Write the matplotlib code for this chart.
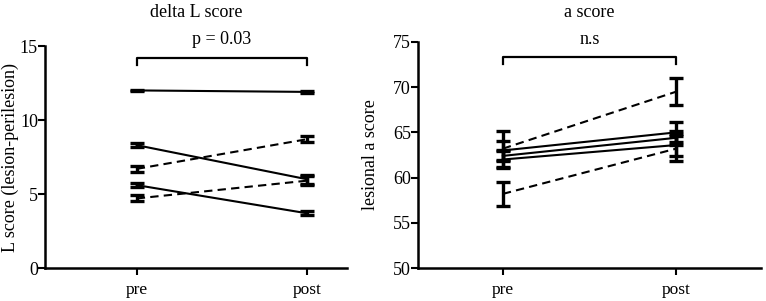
import matplotlib

matplotlib.use("Agg")
import matplotlib.pyplot as plt

plt.rcParams["font.family"] = ["Liberation Serif", "DejaVu Serif"]

groups = ["pre", "post"]

# delta L score: (pre, post) values, errors and line style per subject
l_pre = [12.0, 8.3, 6.7, 5.6, 4.7]
l_post = [11.9, 6.0, 8.7, 3.7, 5.9]
l_err_pre = [0.05, 0.12, 0.2, 0.12, 0.2]
l_err_post = [0.08, 0.3, 0.2, 0.12, 0.3]
l_dashed = [False, False, True, False, True]

# a score
a_pre = [63.2, 63.0, 62.4, 62.0, 58.2]
a_post = [69.5, 65.0, 64.4, 63.6, 63.2]
a_err_pre = [2.0, 1.0, 0.6, 0.9, 1.3]
a_err_post = [1.5, 1.1, 0.8, 1.2, 1.4]
a_dashed = [True, False, False, False, True]

FS = 13


def draw_panel(ax, pre, post, err_pre, err_post, dashed, ylim, yticks,
               title, ylabel, xlim, sig_text, bracket_y, bracket_h, title_pad):
    x = [0, 1]
    for p0, p1, e0, e1, d in zip(pre, post, err_pre, err_post, dashed):
        ls = (0, (4, 2.5)) if d else "-"
        ax.plot(x, [p0, p1], color="black", lw=1.5, linestyle=ls)
        ax.errorbar(x, [p0, p1], yerr=[e0, e1], fmt="none", ecolor="black",
                    elinewidth=2.4, capsize=5, capthick=2.4)

    ax.set_xlim(*xlim)
    ax.set_ylim(*ylim)
    ax.set_yticks(yticks)
    ax.set_xticks(x)
    ax.set_xticklabels(groups, fontsize=12.5)
    ax.tick_params(axis="y", labelsize=FS, length=5, width=1.5, pad=0)
    ax.tick_params(axis="x", length=5, width=1.5, pad=5)
    for s in ["top", "right"]:
        ax.spines[s].set_visible(False)
    for s in ["left", "bottom"]:
        ax.spines[s].set_linewidth(1.8)

    ax.set_title(title, fontsize=FS, pad=title_pad)
    ax.set_ylabel(ylabel, fontsize=FS)

    # significance bracket
    ax.plot([0, 0, 1, 1], [bracket_y - bracket_h, bracket_y, bracket_y,
                           bracket_y - bracket_h],
            color="black", lw=1.6, clip_on=False)
    ax.text(0.5, bracket_y + bracket_h * 1.4, sig_text, ha="center",
            va="bottom", fontsize=FS, clip_on=False)


fig = plt.figure(figsize=(7.66, 3.01), dpi=100)
ax1 = fig.add_axes([0.0587, 0.1096, 0.394, 0.7375])
ax2 = fig.add_axes([0.5457, 0.1096, 0.4478, 0.751])

draw_panel(ax1, l_pre, l_post, l_err_pre, l_err_post, l_dashed,
           (0, 15), [0, 5, 10, 15], "delta L score",
           "L score (lesion-perilesion)", (-0.54, 1.235), "p = 0.03", 14.2, 0.5,
           21)
draw_panel(ax2, a_pre, a_post, a_err_pre, a_err_post, a_dashed,
           (50, 75), [50, 55, 60, 65, 70, 75], "a score",
           "lesional a score", (-0.49, 1.49), "n.s", 73.3, 0.75, 18)

ax1.yaxis.set_label_coords(-0.085, 0.5)
ax2.yaxis.set_label_coords(-0.115, 0.5)

fig.savefig("out.png", dpi=100)
